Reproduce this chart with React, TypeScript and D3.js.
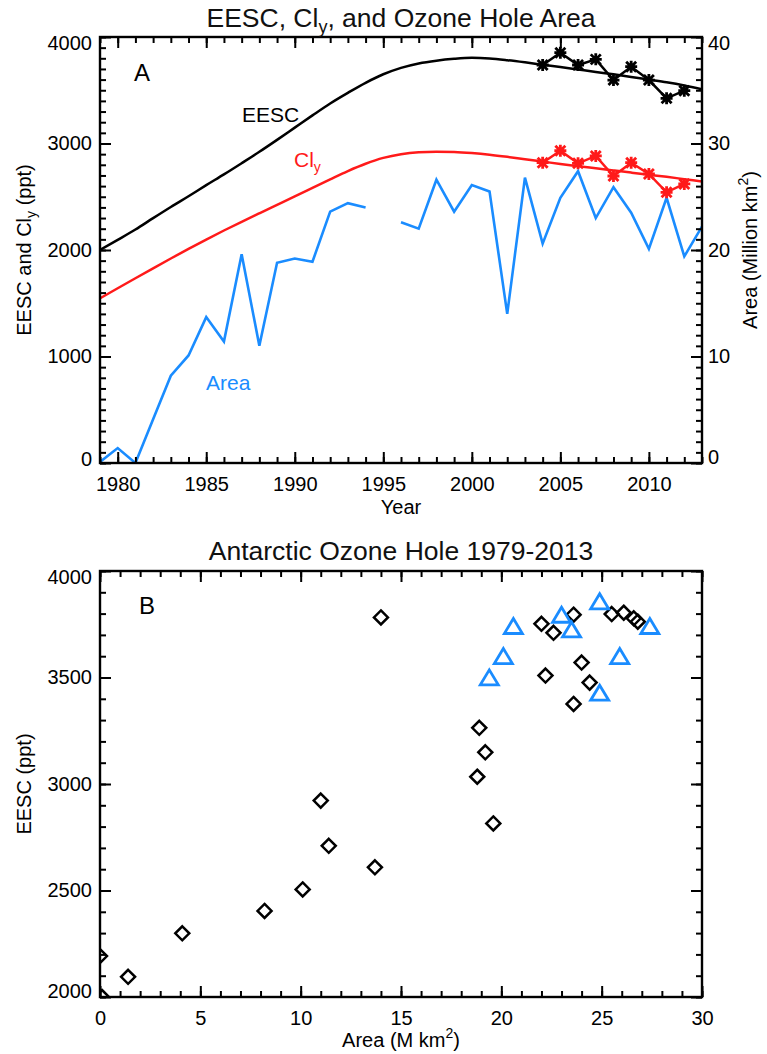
import React, { useEffect, useRef } from "react";
import * as d3 from "d3";

// yearly series
const years = [
  1979, 1980, 1981, 1982, 1983, 1984, 1985, 1986, 1987, 1988, 1989, 1990,
  1991, 1992, 1993, 1994, 1995, 1996, 1997, 1998, 1999, 2000, 2001, 2002,
  2003, 2004, 2005, 2006, 2007, 2008, 2009, 2010, 2011, 2012, 2013,
];
const eesc = [
  2000, 2095, 2192, 2299, 2404, 2505, 2609, 2710, 2815, 2922, 3034, 3149,
  3264, 3376, 3476, 3570, 3650, 3710, 3752, 3778, 3795, 3804, 3798, 3782,
  3762, 3740, 3718, 3695, 3672, 3650, 3625, 3600, 3575, 3545, 3509,
];
const cly = [
  1546, 1641, 1735, 1828, 1920, 2010, 2098, 2183, 2265, 2345, 2424, 2503,
  2583, 2663, 2741, 2810, 2865, 2900, 2918, 2923, 2920, 2910, 2895, 2875,
  2852, 2830, 2808, 2787, 2767, 2747, 2727, 2707, 2687, 2665, 2643,
];
// ozone hole area, million km2 (1995 missing)
const area = [
  0.1, 1.4, 0.0, 4.1, 8.2, 10.1, 13.7, 11.4, 19.6, 11.0, 18.8, 19.2,
  18.9, 23.6, 24.4, 24.0, null, 22.6, 22.0, 26.6, 23.6, 26.1, 25.5, 14.0,
  26.8, 20.6, 24.9, 27.4, 23.0, 25.9, 23.5, 20.1, 24.9, 19.4, 22.2,
];
// observed (starred) values 2004-2012
const starYears = [2004, 2005, 2006, 2007, 2008, 2009, 2010, 2011, 2012];
const starEesc = [3737, 3853, 3737, 3790, 3596, 3721, 3596, 3424, 3496];
const starCly = [2820, 2932, 2814, 2883, 2695, 2820, 2714, 2542, 2620];

const FONT = "Liberation Sans, Arial, Helvetica, sans-serif";
const BLUE = "#1a8cff";
const RED = "#ff1a1a";

const starPath = "M-5,-5L5,5M-5,5L5,-5M0,-6L0,6M-6,0L6,0";
const diamondPath = "M0,-7L7,0L0,7L-7,0Z";
const trianglePath = "M0,-8.5L9,6.5L-9,6.5Z";

function addAxis(parent: any, axis: any, transform: string, shift?: (d: number) => number) {
  const a = parent.append("g").attr("transform", transform).call(axis);
  a.attr("font-size", null).attr("font-family", null);
  a.select(".domain").remove();
  a.selectAll("line").attr("stroke", "#000").attr("stroke-width", 2);
  a.selectAll("text")
    .attr("font-size", 20)
    .attr("fill", "#000")
    .attr("transform", (d: number) => (shift ? `translate(0,${shift(d)})` : null));
  return a;
}

function frameTicks(g: any, x: any, y: any, top: number, bottom: number, left: number,
  xMajor: number[], xMinor: number[], yMajor: number[], yMinor: number[], yFmt: any, yShift: any) {
  // bottom
  addAxis(g, d3.axisBottom(x).tickValues(xMinor).tickSize(-6).tickFormat(() => ""), `translate(0,${bottom})`);
  addAxis(g, d3.axisBottom(x).tickValues(xMajor).tickSize(-11).tickPadding(14).tickFormat(d3.format("d")), `translate(0,${bottom})`);
  // top
  addAxis(g, d3.axisTop(x).tickValues(xMinor).tickSize(-6).tickFormat(() => ""), `translate(0,${top})`);
  addAxis(g, d3.axisTop(x).tickValues(xMajor).tickSize(-11).tickFormat(() => ""), `translate(0,${top})`);
  // left
  addAxis(g, d3.axisLeft(y).tickValues(yMinor).tickSize(-6).tickFormat(() => ""), `translate(${left},0)`);
  addAxis(g, d3.axisLeft(y).tickValues(yMajor).tickSize(-11).tickPadding(8).tickFormat(yFmt), `translate(${left},0)`, yShift);
}

function drawTop(svg: any) {
  const left = 100, right = 702, top = 37, bottom = 463;
  const x = d3.scaleLinear().domain([1979, 2013]).range([left, right]);
  const y = d3.scaleLinear().domain([0, 4000]).range([bottom, top]);
  const yA = d3.scaleLinear().domain([0, 40]).range([bottom, top]);
  const g = svg.append("g");

  g.append("clipPath").attr("id", "clipTop").append("rect")
    .attr("x", left).attr("y", top).attr("width", right - left).attr("height", bottom - top);
  const plot = g.append("g").attr("clip-path", "url(#clipTop)");

  const smooth = d3.line<number>().x((_, i) => x(years[i])).y((d) => y(d)).curve(d3.curveMonotoneX);
  plot.append("path").attr("d", smooth(eesc)).attr("fill", "none").attr("stroke", "#000").attr("stroke-width", 2.5);
  plot.append("path").attr("d", smooth(cly)).attr("fill", "none").attr("stroke", RED).attr("stroke-width", 2.5);

  const areaLine = d3.line<number | null>()
    .defined((d) => d !== null)
    .x((_, i) => x(years[i]))
    .y((d) => yA(d as number));
  plot.append("path").attr("d", areaLine(area)).attr("fill", "none").attr("stroke", BLUE)
    .attr("stroke-width", 2.6).attr("stroke-linejoin", "miter");

  const starLine = d3.line<number>().x((_, i) => x(starYears[i])).y((d) => y(d));
  [[starEesc, "#000"], [starCly, RED]].forEach(([vals, col]: any) => {
    plot.append("path").attr("d", starLine(vals)).attr("fill", "none").attr("stroke", col).attr("stroke-width", 2.5);
    plot.selectAll(null).data(vals).join("path")
      .attr("transform", (d: number, i: number) => `translate(${x(starYears[i])},${y(d)})`)
      .attr("d", starPath).attr("stroke", col).attr("stroke-width", 2.8).attr("fill", "none");
  });

  frameTicks(g, x, y, top, bottom, left,
    d3.range(1980, 2013, 5), d3.range(1979, 2014),
    [0, 1000, 2000, 3000, 4000], d3.range(0, 4001, 100), d3.format("d"),
    (d: number) => (d === 4000 ? 6 : d === 0 ? -4 : 0));

  // right axis (area)
  addAxis(g, d3.axisRight(yA).tickValues(d3.range(0, 41, 1)).tickSize(-6).tickFormat(() => ""), `translate(${right},0)`);
  addAxis(g, d3.axisRight(yA).tickValues([0, 10, 20, 30, 40]).tickSize(-11).tickPadding(6).tickFormat(d3.format("d")),
    `translate(${right},0)`, (d: number) => (d === 40 ? 6 : d === 0 ? -6 : 0));

  g.append("rect").attr("x", left).attr("y", top).attr("width", right - left).attr("height", bottom - top)
    .attr("fill", "none").attr("stroke", "#000").attr("stroke-width", 2.4);

  // titles and labels
  const t = g.append("text").attr("x", 401).attr("y", 27).attr("text-anchor", "middle").attr("font-size", 26.5).attr("fill", "#111");
  t.append("tspan").text("EESC, Cl");
  t.append("tspan").attr("font-size", 18).attr("dy", 6).text("y");
  t.append("tspan").attr("dy", -6).text(", and Ozone Hole Area");

  g.append("text").attr("x", 401).attr("y", 514).attr("text-anchor", "middle").attr("font-size", 20).text("Year");

  const yl = g.append("text").attr("transform", `translate(31,${(top + bottom) / 2}) rotate(-90)`)
    .attr("text-anchor", "middle").attr("font-size", 20);
  yl.append("tspan").text("EESC and Cl");
  yl.append("tspan").attr("font-size", 14).attr("dy", 5).text("y");
  yl.append("tspan").attr("dy", -5).text(" (ppt)");

  const yr = g.append("text").attr("transform", `translate(757,${(top + bottom) / 2}) rotate(-90)`)
    .attr("text-anchor", "middle").attr("font-size", 20);
  yr.append("tspan").text("Area (Million km");
  yr.append("tspan").attr("font-size", 14).attr("dy", -9).text("2");
  yr.append("tspan").attr("dy", 9).text(")");

  g.append("text").attr("x", 134).attr("y", 81).attr("font-size", 24).text("A");
  g.append("text").attr("x", 242).attr("y", 122).attr("font-size", 21).attr("fill", "#000").text("EESC");
  const c = g.append("text").attr("x", 294).attr("y", 167).attr("font-size", 21).attr("fill", RED);
  c.append("tspan").text("Cl");
  c.append("tspan").attr("font-size", 14).attr("dy", 5).text("y");
  g.append("text").attr("x", 206).attr("y", 390).attr("font-size", 21).attr("fill", BLUE).text("Area");
}

function drawBottom(svg: any) {
  const left = 100, right = 702, top = 571, bottom = 997;
  const x = d3.scaleLinear().domain([0, 30]).range([left, right]);
  const y = d3.scaleLinear().domain([2000, 4000]).range([bottom, top]);
  const g = svg.append("g");

  g.append("clipPath").attr("id", "clipBot").append("rect")
    .attr("x", left).attr("y", top).attr("width", right - left).attr("height", bottom - top);
  const plot = g.append("g").attr("clip-path", "url(#clipBot)");

  const diamonds = years
    .map((yr, i) => ({ yr, a: area[i], e: eesc[i] }))
    .filter((d) => d.a !== null && !starYears.includes(d.yr));
  const triangles = starYears.map((yr, i) => ({ a: area[years.indexOf(yr)] as number, e: starEesc[i] }));

  plot.selectAll(".dia").data(diamonds).join("path")
    .attr("class", "dia")
    .attr("transform", (d: any) => `translate(${x(d.a)},${y(d.e)})`)
    .attr("d", diamondPath).attr("fill", "none").attr("stroke", "#000").attr("stroke-width", 2.5);
  plot.selectAll(".tri").data(triangles).join("path")
    .attr("class", "tri")
    .attr("transform", (d: any) => `translate(${x(d.a)},${y(d.e)})`)
    .attr("d", trianglePath).attr("fill", "none").attr("stroke", BLUE).attr("stroke-width", 2.8);

  frameTicks(g, x, y, top, bottom, left,
    d3.range(0, 31, 5), d3.range(0, 31, 1),
    [2000, 2500, 3000, 3500, 4000], d3.range(2000, 4001, 100), d3.format("d"),
    (d: number) => (d === 4000 ? 6 : d === 2000 ? -6 : 0));
  // right side mirror ticks
  addAxis(g, d3.axisRight(y).tickValues(d3.range(2000, 4001, 100)).tickSize(-6).tickFormat(() => ""), `translate(${right},0)`);
  addAxis(g, d3.axisRight(y).tickValues([2000, 2500, 3000, 3500, 4000]).tickSize(-11).tickFormat(() => ""), `translate(${right},0)`);

  g.append("rect").attr("x", left).attr("y", top).attr("width", right - left).attr("height", bottom - top)
    .attr("fill", "none").attr("stroke", "#000").attr("stroke-width", 2.4);

  g.append("text").attr("x", 401).attr("y", 560).attr("text-anchor", "middle").attr("font-size", 26.5)
    .attr("fill", "#111").text("Antarctic Ozone Hole 1979-2013");

  const xl = g.append("text").attr("x", 401).attr("y", 1047).attr("text-anchor", "middle").attr("font-size", 20);
  xl.append("tspan").text("Area (M km");
  xl.append("tspan").attr("font-size", 14).attr("dy", -9).text("2");
  xl.append("tspan").attr("dy", 9).text(")");

  g.append("text").attr("transform", `translate(31,${(top + bottom) / 2}) rotate(-90)`)
    .attr("text-anchor", "middle").attr("font-size", 20).text("EESC (ppt)");

  g.append("text").attr("x", 139).attr("y", 614).attr("font-size", 24).text("B");
}

export default function App() {
  const ref = useRef<SVGSVGElement>(null);
  useEffect(() => {
    const svg = d3.select(ref.current);
    svg.selectAll("*").remove();
    drawTop(svg);
    drawBottom(svg);
  }, []);
  return (
    <svg
      ref={ref}
      width={767}
      height={1054}
      fontFamily={FONT}
      style={{ position: "absolute", left: 0, top: 0, background: "#fff" }}
    />
  );
}
